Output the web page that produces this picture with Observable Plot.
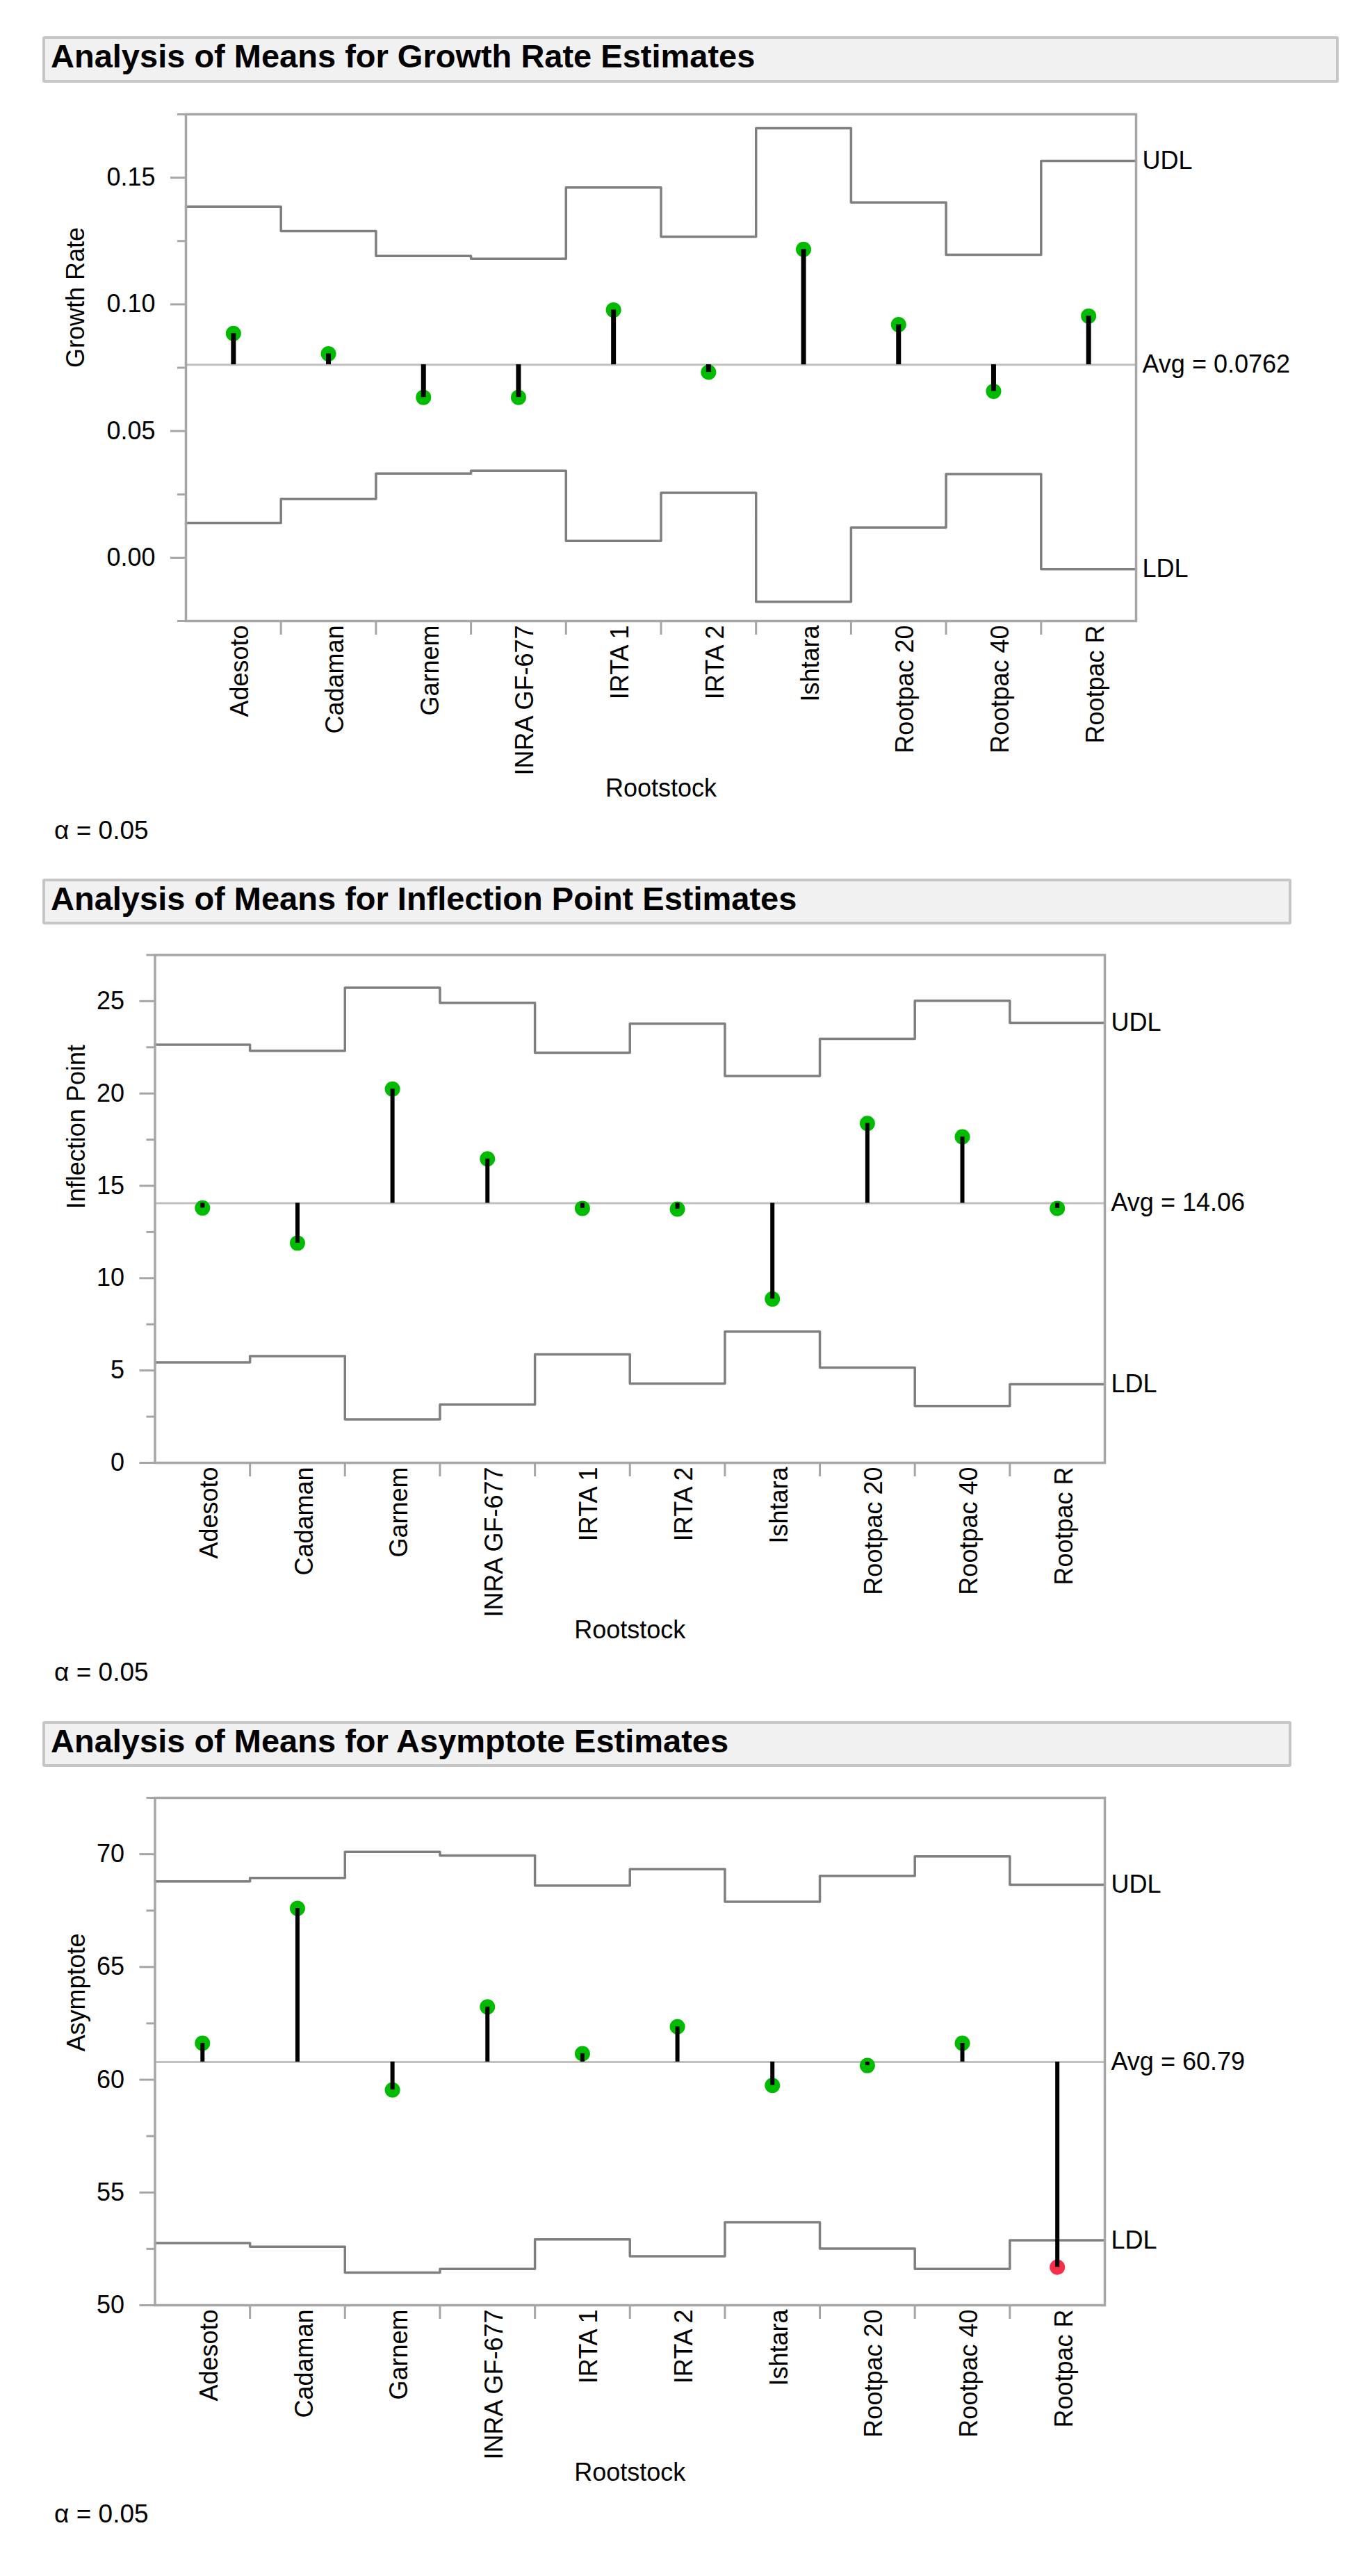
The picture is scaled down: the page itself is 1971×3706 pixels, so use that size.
<!DOCTYPE html>
<html>
<head>
<meta charset="utf-8">
<script src="https://cdn.jsdelivr.net/npm/d3@7"></script>
<script src="https://cdn.jsdelivr.net/npm/@observablehq/plot@0.6"></script>
<style>
  html, body { margin: 0; padding: 0; background: #fff; overflow: hidden; }
  #page { position: relative; width: 1971px; height: 3706px; background: #fff;
          font-family: "Liberation Sans", Arial, Helvetica, sans-serif; }
  .tbox { position: absolute; box-sizing: border-box; border: 4px solid #c6c6c6;
          background: #f1f1f1; border-radius: 3px; }
  .ttext { position: absolute; font-weight: bold; font-size: 47px; line-height: 47px;
           white-space: nowrap; color: #000; }
  .alpha { position: absolute; font-size: 37px; line-height: 37px; white-space: nowrap; color: #000; }
  .chart { position: absolute; left: 0; }
</style>
</head>
<body>
<div id="page"></div>
<script>
// ---------- data ----------
const rootstocks = ["Adesoto", "Cadaman", "Garnem", "INRA GF-677", "IRTA 1", "IRTA 2", "Ishtara", "Rootpac 20", "Rootpac 40", "Rootpac R"];

const growthRate = [0.0885, 0.0805, 0.0633, 0.0633, 0.0978, 0.0732, 0.1217, 0.0920, 0.0657, 0.0954];
const growthUDL  = [0.1386, 0.1289, 0.1191, 0.1180, 0.1461, 0.1267, 0.1695, 0.1402, 0.1196, 0.1566];
const growthLDL  = [0.0137, 0.0232, 0.0332, 0.0343, 0.0066, 0.0256, -0.0174, 0.0119, 0.0330, -0.0045];
const growthAvg  = 0.0762;
const growthTicks = [0, 0.05, 0.10, 0.15];
const growthMinor = [-0.025, 0.025, 0.075, 0.125, 0.175];

const inflection    = [13.80, 11.90, 20.24, 16.46, 13.78, 13.74, 8.87, 18.38, 17.65, 13.78];
const inflectionUDL = [22.64, 22.31, 25.73, 24.91, 22.21, 23.78, 20.95, 22.96, 25.02, 23.83];
const inflectionLDL = [5.44, 5.78, 2.35, 3.15, 5.87, 4.29, 7.10, 5.16, 3.08, 4.25];
const inflectionAvg = 14.06;
const inflectionTicks = [0, 5, 10, 15, 20, 25];
const inflectionMinor = [2.5, 7.5, 12.5, 17.5, 22.5, 27.5];

const asymptote    = [61.62, 67.60, 59.55, 63.23, 61.16, 62.35, 59.75, 60.63, 61.62, 51.69];
const asymptoteUDL = [68.79, 68.95, 70.10, 69.94, 68.61, 69.34, 67.89, 69.04, 69.90, 68.65];
const asymptoteLDL = [52.76, 52.60, 51.45, 51.61, 52.92, 52.17, 53.68, 52.51, 51.61, 52.88];
const asymptoteAvg = 60.79;
const asymptoteTicks = [50, 55, 60, 65, 70];
const asymptoteMinor = [52.5, 57.5, 62.5, 67.5, 72.5];

const titles = ["Analysis of Means for Growth Rate Estimates",
                "Analysis of Means for Inflection Point Estimates",
                "Analysis of Means for Asymptote Estimates"];
const yLabels = ["Growth Rate", "Inflection Point", "Asymptote"];
const xLabel = "Rootstock";
const alphaText = "α = 0.05";

// ---------- layout ----------
const page = document.getElementById("page");
const FONT = "'Liberation Sans', Arial, Helvetica, sans-serif";
const GREEN = "#00bb00", RED = "#f5304b";
const AXIS = "#a6a6a6", LIMIT = "#7f7f7f", AVG = "#c0c0c0";

function anom(cfg) {
  const n = rootstocks.length;
  const pts = rootstocks.map((c, i) => ({i, c, v: cfg.values[i], u: cfg.udl[i], l: cfg.ldl[i]}));
  const steps = [...pts, {i: n, u: cfg.udl[n - 1], l: cfg.ldl[n - 1]}];
  const inside = d => d.v <= d.u && d.v >= d.l;
  const labels = [
    {y: cfg.udl[n - 1], t: "UDL"},
    {y: cfg.avg, t: "Avg = " + cfg.avg},
    {y: cfg.ldl[n - 1], t: "LDL"}
  ];
  return Plot.plot({
    width: 1971,
    height: cfg.height,
    marginLeft: cfg.left,
    marginRight: 1971 - cfg.right,
    marginTop: cfg.mTop,
    marginBottom: cfg.mBottom,
    x: {type: "linear", domain: [0, n]},
    y: {domain: cfg.domain},
    style: {fontFamily: FONT, fontSize: "36px", background: "white", color: "black", overflow: "visible"},
    marks: [
      Plot.ruleY([cfg.avg], {stroke: AVG, strokeWidth: 3}),
      Plot.line(steps, {x: "i", y: "u", curve: "step-after", stroke: LIMIT, strokeWidth: 3.5}),
      Plot.line(steps, {x: "i", y: "l", curve: "step-after", stroke: LIMIT, strokeWidth: 3.5}),
      Plot.dot(pts, {filter: inside, x: d => d.i + 0.5, y: "v", r: 11, fill: GREEN, stroke: null}),
      Plot.dot(pts, {filter: d => !inside(d), x: d => d.i + 0.5, y: "v", r: 11, fill: RED, stroke: null}),
      Plot.ruleX(pts, {x: d => d.i + 0.5, y1: d => cfg.avg, y2: "v", stroke: "black", strokeWidth: cfg.stem}),
      Plot.axisY({ticks: cfg.ticks, tickFormat: cfg.fmt, tickSize: 22, tickPadding: 22,
                  stroke: AXIS, strokeWidth: 3, fill: "black", fontSize: 36, label: null}),
      Plot.axisY({ticks: cfg.minor, tickFormat: () => "", tickSize: 12,
                  stroke: AXIS, strokeWidth: 3, label: null}),
      Plot.axisX({ticks: d3.range(1, n), tickFormat: () => "", tickSize: 20,
                  stroke: AXIS, strokeWidth: 3, label: null}),
      Plot.axisX({ticks: d3.range(n).map(i => i + 0.5), tickFormat: d => rootstocks[Math.floor(d)],
                  tickSize: 0, tickPadding: 6, tickRotate: -90, textAnchor: "end", dx: 10,
                  fill: "black", fontSize: 36, label: null}),
      Plot.frame({stroke: AXIS, strokeWidth: 3.5}),
      Plot.text([cfg.ylabel], {frameAnchor: "left", rotate: -90, dx: cfg.ylabelDx, fontSize: 36, fill: "black"}),
      Plot.text([xLabel], {frameAnchor: "bottom", dy: 252, fontSize: 36, fill: "black"}),
      Plot.text(labels, {x: n, y: "y", text: "t", textAnchor: "start", dx: 9, fontSize: 36, fill: "black"})
    ]
  });
}

const charts = [
  {title: titles[0], boxTop: 52, boxBottom: 119, boxRight: 1926, titleTop: 57.0,
   svgTop: 130, frameTop: 164, frameBottom: 893, left: 267, right: 1634,
   values: growthRate, udl: growthUDL, ldl: growthLDL, avg: growthAvg,
   domain: [-0.025, 0.175], ticks: growthTicks, minor: growthMinor, fmt: d3.format(".2f"),
   ylabel: yLabels[0], ylabelDx: -158.5, stem: 7, alphaTop: 1176},
  {title: titles[1], boxTop: 1264, boxBottom: 1330, boxRight: 1858, titleTop: 1268.9,
   svgTop: 1340, frameTop: 1373.4, frameBottom: 2104, left: 222.5, right: 1589,
   values: inflection, udl: inflectionUDL, ldl: inflectionLDL, avg: inflectionAvg,
   domain: [0, 27.5], ticks: inflectionTicks, minor: inflectionMinor, fmt: d3.format("d"),
   ylabel: yLabels[1], ylabelDx: -113, stem: 6, alphaTop: 2387},
  {title: titles[2], boxTop: 2476, boxBottom: 2542, boxRight: 1858, titleTop: 2480.8,
   svgTop: 2550, frameTop: 2586, frameBottom: 3316, left: 222.5, right: 1589,
   values: asymptote, udl: asymptoteUDL, ldl: asymptoteLDL, avg: asymptoteAvg,
   domain: [50, 72.5], ticks: asymptoteTicks, minor: asymptoteMinor, fmt: d3.format("d"),
   ylabel: yLabels[2], ylabelDx: -113, stem: 6, alphaTop: 3598}
];

for (const c of charts) {
  const box = document.createElement("div");
  box.className = "tbox";
  box.style.left = "61px";
  box.style.top = c.boxTop + "px";
  box.style.width = (c.boxRight - 61) + "px";
  box.style.height = (c.boxBottom - c.boxTop) + "px";
  page.appendChild(box);

  const tt = document.createElement("div");
  tt.className = "ttext";
  tt.style.left = "73px";
  tt.style.top = c.titleTop + "px";
  tt.textContent = c.title;
  page.appendChild(tt);

  const mBottom = 282;
  const cfg = Object.assign({}, c, {
    mTop: c.frameTop - c.svgTop,
    mBottom,
    height: (c.frameBottom - c.svgTop) + mBottom
  });
  const wrap = document.createElement("div");
  wrap.className = "chart";
  wrap.style.top = c.svgTop + "px";
  wrap.appendChild(anom(cfg));
  page.appendChild(wrap);

  const al = document.createElement("div");
  al.className = "alpha";
  al.style.left = "78px";
  al.style.top = c.alphaTop + "px";
  al.textContent = alphaText;
  page.appendChild(al);
}
</script>
</body>
</html>
